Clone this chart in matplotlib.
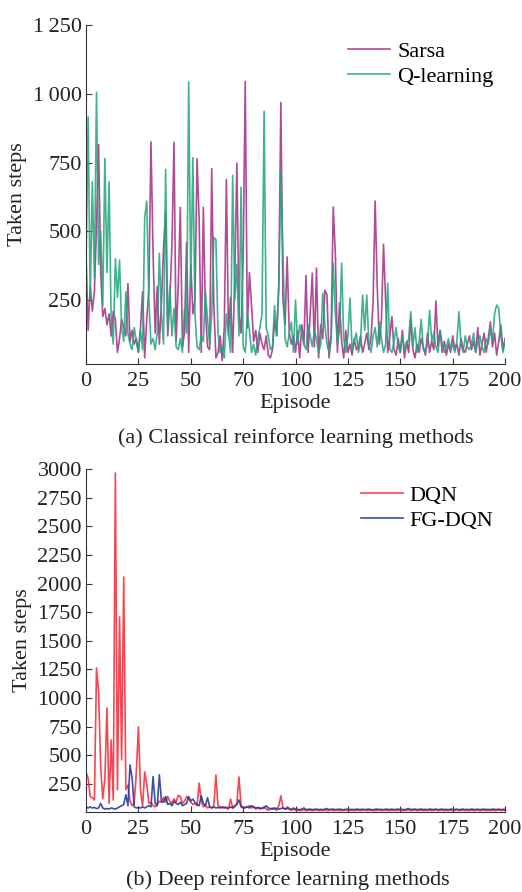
import numpy as np
import matplotlib.pyplot as plt

plt.rcParams['font.family'] = ['Liberation Serif', 'DejaVu Serif']
plt.rcParams['font.size'] = 16

episodes = np.arange(0, 201)

# (a) classical methods
sarsa = [420, 140, 300, 210, 280, 520, 815, 350, 190, 220,
         160, 200, 120, 210, 180, 60, 110, 180, 150, 120,
         310, 100, 140, 90, 110, 60, 150, 280, 40, 180,
         290, 825, 420, 130, 300, 90, 240, 440, 575, 120,
         250, 450, 823, 100, 300, 587, 80, 130, 460, 60,
         380, 200, 250, 764, 540, 60, 587, 210, 80, 70,
         728, 230, 40, 60, 120, 30, 150, 688, 120, 260,
         60, 330, 747, 200, 130, 400, 1045, 150, 350, 230,
         100, 140, 60, 130, 90, 70, 120, 50, 40, 70,
         180, 120, 300, 968, 250, 160, 407, 130, 90, 120,
         60, 140, 40, 160, 90, 340, 60, 200, 348, 80,
         366, 40, 160, 110, 286, 270, 40, 130, 588, 420,
         60, 240, 100, 40, 140, 60, 90, 50, 110, 70,
         80, 120, 60, 90, 130, 70, 110, 240, 610, 300,
         90, 180, 453, 250, 60, 120, 190, 70, 50, 110,
         60, 140, 40, 100, 60, 180, 70, 40, 90, 60,
         110, 80, 50, 130, 60, 100, 70, 247, 80, 140,
         60, 100, 50, 90, 60, 120, 70, 90, 50, 110,
         70, 60, 90, 120, 70, 100, 60, 150, 50, 90,
         130, 60, 110, 171, 80, 130, 50, 100, 160, 70,
         110]
qlearning = [380, 915, 250, 680, 330, 1005, 380, 500, 230, 765,
             350, 680, 170, 90, 400, 260, 395, 150, 100, 280,
             130, 90, 70, 150, 100, 60, 140, 70, 550, 610,
             250, 90, 110, 70, 130, 420, 200, 90, 725, 150,
             300, 120, 220, 80, 70, 110, 60, 220, 130, 1043,
             300, 768, 200, 80, 70, 120, 100, 280, 180, 90,
             200, 478, 470, 130, 60, 80, 40, 200, 130, 60,
             703, 250, 380, 120, 660, 80, 60, 200, 140, 60,
             90, 50, 110, 150, 200, 936, 150, 120, 70, 80,
             230, 120, 300, 720, 407, 110, 80, 130, 170, 60,
             250, 90, 160, 130, 90, 70, 160, 120, 80, 140,
             110, 60, 90, 275, 160, 90, 60, 100, 384, 200,
             90, 140, 384, 110, 60, 120, 257, 70, 100, 130,
             60, 90, 268, 140, 268, 90, 60, 120, 150, 80,
             170, 110, 60, 90, 312, 70, 60, 100, 150, 80,
             60, 120, 70, 90, 110, 208, 80, 150, 60, 100,
             180, 70, 60, 90, 213, 100, 130, 80, 60, 140,
             90, 60, 80, 110, 70, 90, 60, 100, 208, 90,
             60, 120, 80, 70, 90, 130, 60, 100, 120, 80,
             60, 110, 90, 150, 100, 200, 232, 220, 120, 60,
             100]

# (b) deep methods
dqn = [350, 300, 140, 130, 110, 1263, 1050, 400, 120, 300,
       913, 80, 634, 110, 2965, 200, 1708, 460, 2057, 200,
       240, 100, 60, 80, 350, 748, 200, 60, 355, 250,
       80, 90, 60, 50, 70, 100, 90, 130, 90, 140,
       100, 80, 120, 90, 150, 140, 80, 100, 140, 120,
       90, 70, 80, 60, 258, 100, 50, 60, 40, 50,
       40, 60, 328, 60, 50, 40, 50, 40, 30, 118,
       40, 50, 80, 311, 60, 50, 40, 50, 60, 40,
       50, 30, 40, 30, 40, 50, 30, 20, 30, 40,
       30, 20, 60, 146, 40, 30, 50, 40, 20, 30,
       20, 22, 18, 20, 25, 18, 20, 22, 18, 20,
       24, 18, 20, 19, 22, 18, 20, 25, 18, 20,
       22, 18, 20, 19, 24, 18, 20, 22, 18, 20,
       21, 18, 20, 24, 18, 20, 22, 18, 19, 20,
       23, 18, 20, 22, 18, 20, 19, 24, 18, 20,
       22, 18, 20, 19, 22, 18, 20, 24, 18, 20,
       22, 18, 20, 19, 22, 18, 20, 25, 18, 20,
       22, 18, 20, 19, 22, 18, 20, 24, 18, 20,
       22, 18, 20, 19, 22, 18, 20, 23, 18, 20,
       22, 18, 20, 19, 22, 18, 20, 24, 18, 20,
       20]
fgdqn = [50, 40, 50, 40, 45, 35, 40, 80, 40, 30,
         35, 30, 40, 35, 30, 40, 50, 60, 70, 155,
         60, 416, 300, 50, 40, 45, 40, 50, 40, 50,
         60, 50, 314, 80, 60, 330, 100, 90, 140, 70,
         80, 60, 100, 80, 70, 90, 60, 70, 80, 140,
         100, 118, 90, 70, 60, 146, 80, 60, 130, 50,
         40, 50, 40, 45, 40, 50, 40, 45, 40, 50,
         40, 60, 70, 110, 50, 40, 45, 50, 40, 60,
         50, 40, 45, 40, 35, 40, 60, 40, 35, 30,
         40, 35, 30, 35, 40, 30, 35, 30, 25, 40,
         30, 28, 25, 30, 40, 26, 28, 30, 25, 28,
         30, 26, 28, 25, 30, 35, 26, 28, 30, 25,
         28, 30, 26, 25, 28, 30, 26, 28, 25, 30,
         28, 26, 30, 25, 28, 30, 26, 25, 28, 30,
         26, 28, 25, 30, 28, 26, 30, 25, 28, 30,
         26, 28, 25, 30, 35, 26, 28, 30, 25, 28,
         30, 26, 28, 25, 30, 28, 26, 30, 25, 28,
         30, 26, 28, 25, 30, 28, 26, 30, 25, 28,
         30, 26, 28, 25, 30, 28, 26, 30, 25, 28,
         30, 26, 28, 25, 30, 28, 26, 30, 25, 28,
         28]

top_xticks = [0, 25, 50, 75, 100, 125, 150, 175, 200]
top_xlabels = ['0', '25', '50', '70', '100', '125', '150', '175', '200']
top_yticks = [250, 500, 750, 1000, 1250]
top_ylabels = ['250', '500', '750', '1\u2009000', '1\u2009250']
bot_yticks = [250, 500, 750, 1000, 1250, 1500, 1750, 2000, 2250, 2500, 2750, 3000]

fig = plt.figure(figsize=(5.22, 8.92), dpi=100)
ax1 = fig.add_axes([0.1648, 0.592, 0.8027, 0.380])
ax2 = fig.add_axes([0.1648, 0.0897, 0.8027, 0.3845])

ax1.plot(episodes, sarsa, color='#a8388c', lw=1.2, alpha=0.9, label='Sarsa')
ax1.plot(episodes, qlearning, color='#1fa57c', lw=1.2, alpha=0.85, label='Q-learning')
ax1.set_xlim(0, 200)
ax1.set_ylim(18, 1250)
ax1.set_xticks(top_xticks)
ax1.set_xticklabels(top_xlabels)
ax1.set_yticks(top_yticks)
ax1.set_yticklabels(top_ylabels)

ax2.plot(episodes, dqn, color='#f5323f', lw=1.2, alpha=0.9, label='DQN')
ax2.plot(episodes, fgdqn, color='#2b3a9e', lw=1.2, alpha=0.9, label='FG-DQN')
ax2.set_xlim(0, 200)
ax2.set_ylim(5, 3000)
ax2.set_xticks(top_xticks)
ax2.set_yticks(bot_yticks)

for ax in (ax1, ax2):
    ax.spines['top'].set_visible(False)
    ax.spines['right'].set_visible(False)
    ax.spines['left'].set_color('#333333')
    ax.spines['bottom'].set_color('#333333')
    ax.tick_params(direction='in', length=4, color='#333333', labelsize=16, labelcolor='#222222', pad=3)
    ax.tick_params(axis='x', pad=6)
    ax.set_xlabel('Episode', fontsize=16, labelpad=2, color='#222222')
    ax.set_ylabel('Taken steps', fontsize=16, color='#222222', labelpad=4)
    ax.legend(loc='upper right', frameon=False, fontsize=16, handlelength=1.9,
              handletextpad=0.3, labelspacing=0.2, bbox_to_anchor=(1.02, 1.01))

cx = 0.1648 + 0.8027 / 2
fig.text(cx, 1 - 438 / 892, '(a) Classical reinforce learning methods', ha='center', va='center',
         fontsize=16, color='#222222')
fig.text(cx - 0.015, 1 - 880 / 892, '(b) Deep reinforce learning methods', ha='center', va='center',
         fontsize=16, color='#222222')

fig.savefig('out.png', dpi=100)
